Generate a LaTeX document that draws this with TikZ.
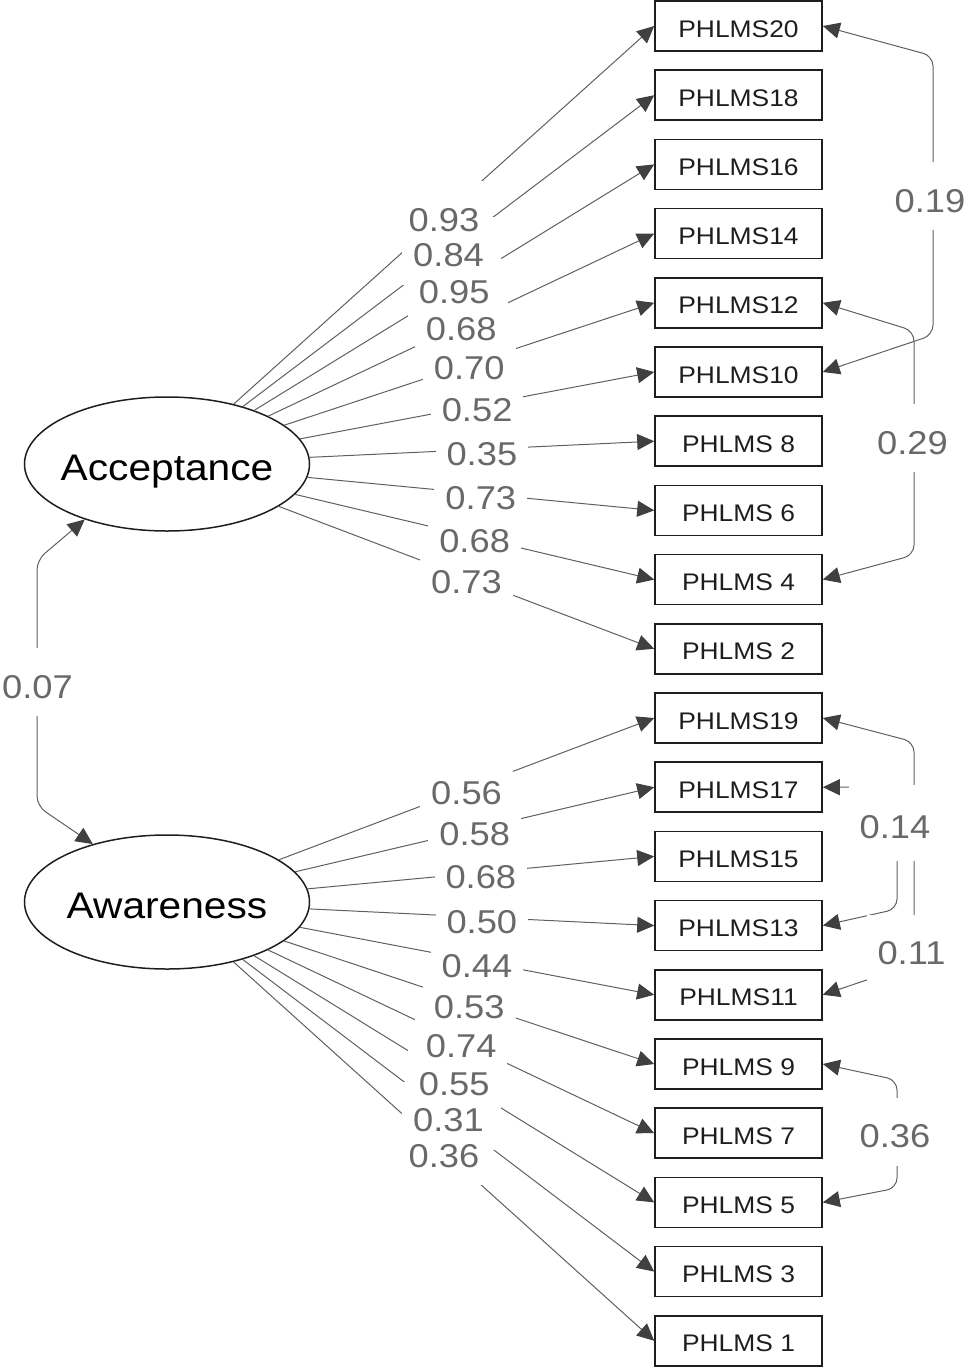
\documentclass[tikz,border=0pt]{standalone}
\usepackage{fontspec}
\setmainfont{Liberation Sans}
\newfontfamily\wfont[FakeStretch=1.1]{Liberation Sans}
\usetikzlibrary{arrows.meta,shapes.geometric}
\definecolor{lncol}{RGB}{95,95,95}
\definecolor{tipcol}{RGB}{64,64,64}
\definecolor{labcol}{RGB}{105,105,105}
\definecolor{txtcol}{RGB}{30,30,30}
\begin{document}
\begin{tikzpicture}[x=1pt,y=-1pt,
  obs/.style={draw=txtcol, line width=1.6pt, rectangle, minimum width=167pt, minimum height=50pt, inner sep=0pt, text height=22pt, text depth=0pt, font=\wfont\fontsize{24}{28}\selectfont, text=txtcol},
  lat/.style={draw=txtcol, line width=1.5pt, ellipse, minimum width=285pt, minimum height=134pt, inner sep=0pt, text height=32pt, text depth=0pt, font=\wfont\fontsize{37}{44}\selectfont, text=black},
  load/.style={draw=lncol, line width=1pt, -{Triangle[length=17pt,width=16pt,color=tipcol]}},
  cov/.style={draw=lncol, line width=1pt, rounded corners=10pt, {Triangle[length=17pt,width=16pt,color=tipcol]}-{Triangle[length=17pt,width=16pt,color=tipcol]}},
  labshape/.style={inner xsep=11pt, inner ysep=0pt, text height=32pt, text depth=0pt, minimum height=68pt, font=\wfont\fontsize{33}{38}\selectfont},
  labbg/.style={labshape, fill=white},
  lab/.style={labshape, text=labcol}
]
\useasboundingbox (0,0) rectangle (967,1368);

% latent variables
\node[lat] (acc) at (167,464) {\makebox[0pt]{Acceptance}};
\node[lat] (awa) at (167,902) {\makebox[0pt]{Awareness}};

% observed variables
\node[obs] (b20) at (738.5,26)     {PHLMS20};
\node[obs] (b18) at (738.5,95.2)   {PHLMS18};
\node[obs] (b16) at (738.5,164.4)  {PHLMS16};
\node[obs] (b14) at (738.5,233.6)  {PHLMS14};
\node[obs] (b12) at (738.5,302.8)  {PHLMS12};
\node[obs] (b10) at (738.5,372)    {PHLMS10};
\node[obs] (b8)  at (738.5,441.2)  {PHLMS 8};
\node[obs] (b6)  at (738.5,510.4)  {PHLMS 6};
\node[obs] (b4)  at (738.5,579.6)  {PHLMS 4};
\node[obs] (b2)  at (738.5,648.8)  {PHLMS 2};
\node[obs] (b19) at (738.5,718)    {PHLMS19};
\node[obs] (b17) at (738.5,787.2)  {PHLMS17};
\node[obs] (b15) at (738.5,856.4)  {PHLMS15};
\node[obs] (b13) at (738.5,925.6)  {PHLMS13};
\node[obs] (b11) at (738.5,994.8)  {PHLMS11};
\node[obs] (b9)  at (738.5,1064)   {PHLMS 9};
\node[obs] (b7)  at (738.5,1133.2) {PHLMS 7};
\node[obs] (b5)  at (738.5,1202.4) {PHLMS 5};
\node[obs] (b3)  at (738.5,1271.6) {PHLMS 3};
\node[obs] (b1)  at (738.5,1340.8) {PHLMS 1};

% loadings
\foreach \t in {20,18,16,14,12,10,8,6,4,2}
  \draw[load] (acc) -- (b\t.west) coordinate[midway] (m\t);
\foreach \t in {19,17,15,13,11,9,7,5,3,1}
  \draw[load] (awa) -- (b\t.west) coordinate[midway] (m\t);

% covariances
\draw[cov] (b20.east) -- (933,56) -- (933,335) -- (b10.east);
\draw[cov] (b12.east) -- (914,331) -- (914,555) -- (b4.east);
\draw[cov] (b19.east) -- (914,742) -- (914,964) -- (b11.east);
\draw[cov] (b17.east) -- (897,787.2) -- (897,909) -- (b13.east);
\draw[cov] (b9.east) -- (897,1080) -- (897,1188) -- (b5.east);
\draw[cov] (acc.214) -- (37,560) -- (37,806) -- (awa.142);

% covariance label positions
\coordinate (p19) at (930,196);
\coordinate (p29) at (912.5,438);
\coordinate (p14) at (895,822.5);
\coordinate (p11) at (911.5,948.5);
\coordinate (p36) at (895,1131.5);
\coordinate (p07) at (37.5,682);

% white gaps under all labels
\foreach \t/\v in {20/0.93,18/0.84,16/0.95,14/0.68,12/0.70,10/0.52,8/0.35,6/0.73,4/0.68,2/0.73,
                   19/0.56,17/0.58,15/0.68,13/0.50,11/0.44,9/0.53,7/0.74,5/0.55,3/0.31,1/0.36}
  \node[labbg] at (m\t) {\phantom{\v}};
\foreach \t/\v in {19/0.19,29/0.29,11/0.11,36/0.36,07/0.07}
  \node[labbg] at (p\t) {\phantom{\v}};
\node[labbg, minimum height=76pt] at (p14) {\phantom{0.14}};

% loading labels
\node[lab] (l20) at (m20) {0.93};
\node[lab] (l18) at (m18) {0.84};
\node[lab] (l16) at (m16) {0.95};
\node[lab] (l14) at (m14) {0.68};
\node[lab] (l12) at (m12) {0.70};
\node[lab] (l10) at (m10) {0.52};
\node[lab] (l8)  at (m8)  {0.35};
\node[lab] (l6)  at (m6)  {0.73};
\node[lab] (l4)  at (m4)  {0.68};
\node[lab] (l2)  at (m2)  {0.73};
\node[lab] (l19) at (m19) {0.56};
\node[lab] (l17) at (m17) {0.58};
\node[lab] (l15) at (m15) {0.68};
\node[lab] (l13) at (m13) {0.50};
\node[lab] (l11) at (m11) {0.44};
\node[lab] (l9)  at (m9)  {0.53};
\node[lab] (l7)  at (m7)  {0.74};
\node[lab] (l5)  at (m5)  {0.55};
\node[lab] (l3)  at (m3)  {0.31};
\node[lab] (l1)  at (m1)  {0.36};

% covariance labels
\node[lab] (c19) at (p19) {0.19};
\node[lab] (c29) at (p29) {0.29};
\node[lab, minimum height=76pt] (c14) at (p14) {0.14};
\node[lab] (c11) at (p11) {0.11};
\node[lab] (c36) at (p36) {0.36};
\node[lab] (c07) at (p07) {0.07};
\end{tikzpicture}
\end{document}
